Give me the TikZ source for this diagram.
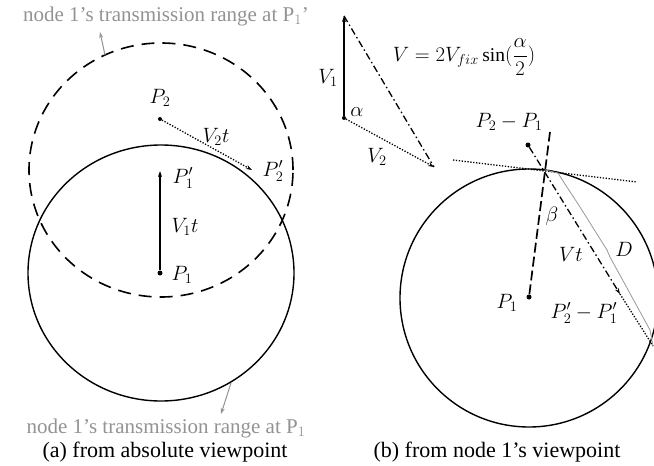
\documentclass[tikz,border=0pt]{standalone}
\usepackage{fontspec}
\usepackage{amsmath}
\setmainfont{Liberation Serif}
\usetikzlibrary{arrows.meta}
\begin{document}
\begin{tikzpicture}[x=1pt,y=-1pt,
  solidline/.style={line width=1.4pt},
  dashcircle/.style={line width=1.6pt,dash pattern=on 13pt off 8pt},
  dotline/.style={line width=1.3pt,dash pattern=on 1.3pt off 1.6pt},
  dashdotline/.style={line width=1.3pt,dash pattern=on 7pt off 3pt on 1.5pt off 3pt},
  tip/.style={-{Stealth[length=6pt,width=4pt]}},
  dotpt/.style={circle,fill=black,inner sep=0pt,minimum size=5pt},
  lbl/.style={inner sep=1pt,font=\fontsize{19.5}{21}\selectfont},
  graytxt/.style={text=gray!85,font=\fontsize{21}{23}\selectfont,inner sep=1pt},
  captxt/.style={font=\fontsize{22}{24}\selectfont,inner sep=1pt},
  grayarrow/.style={draw=gray!85,line width=1pt,-{Stealth[length=6pt,width=4pt]}}]
\useasboundingbox (0,0) rectangle (654,466);
\fill[white] (0,0) rectangle (654,466);

% ---------- (a) ----------
\coordinate (ca) at (161,273);
\coordinate (cap) at (161,170);
\draw[solidline] (ca) ellipse [x radius=133pt, y radius=128pt];
\draw[dashcircle] (cap) ellipse [x radius=132pt, y radius=127pt];

\node[dotpt] (P1) at (160,273) {};
\coordinate (P1p) at (160,171);
\draw[solidline,tip] (P1) -- (P1p);
\node[dotpt,minimum size=4pt] (P2) at (160,119) {};
\coordinate (P2p) at (252,170);
\draw[dotline,tip] (P2) -- (P2p);

\node[lbl] (lP2) at (160,98) {$P_2$};
\node[lbl] (lV2t) at (216,137) {$V_2t$};
\node[lbl] (lP2p) at (273,171) {$P_2'$};
\node[lbl] (lP1p) at (183,178) {$P_1'$};
\node[lbl] (lV1t) at (185,227) {$V_1t$};
\node[lbl] (lP1) at (182,275) {$P_1$};

\node[graytxt] (topl) at (166,16) {node 1’s transmission range at P$_1$’};
\coordinate (ta) at (105,55);
\coordinate (tb) at (100,32);
\draw[grayarrow] (ta) -- (tb);
\node[graytxt] (botl) at (166,428) {node 1’s transmission range at P$_1$};
\coordinate (ba) at (231,383);
\coordinate (bb) at (221,414);
\draw[grayarrow] (ba) -- (bb);
\node[captxt] (capa) at (165,452) {(a) from absolute viewpoint};

% ---------- triangle ----------
\node[dotpt,minimum size=4pt] (TA) at (344,118) {};
\coordinate (TB) at (344,16);
\coordinate (TC) at (434,167);
\draw[solidline,tip] (TA) -- (TB);
\draw[dotline,tip] (TA) -- (TC);
\draw[dashdotline] (TB) -- (TC);
\node[lbl] (lV1) at (328,78) {$V_1$};
\node[lbl] (lal) at (357,112) {$\alpha$};
\node[lbl] (lV2) at (377,157) {$V_2$};
\node[lbl] (form) at (464,57) {$V=2V_{fix}\sin(\dfrac{\alpha}{2})$};

% ---------- (b) ----------
\coordinate (cb) at (529,298);
\draw[solidline] (cb) ellipse [x radius=129pt, y radius=129pt];
\node[dotpt] (Q1) at (529,297) {};
\coordinate (Qd) at (550,132);
\draw[line width=1.7pt,dash pattern=on 10pt off 4pt] (Q1) -- (Qd);
\node[dotpt] (Q21) at (528,145) {};
\coordinate (Qv) at (620,294);
\draw[dashdotline,tip] (Q21) -- (Qv);
\coordinate (Qe) at (653,346);
\draw[dotline] (Qv) -- (Qe);
\coordinate (Ta) at (453,160);
\coordinate (Tb) at (637,182);
\draw[dotline] (Ta) -- (Tb);
\draw[gray!80,line width=0.8pt] (545,170) -- (558,173) -- (563,181) -- (580,207) -- (607,250) -- (610,257) -- (650,330) -- (653,346);

\node[lbl] (lP21) at (509,122) {$P_2-P_1$};
\node[lbl] (lbeta) at (552,216) {$\beta$};
\node[lbl] (lVt) at (571,254) {$Vt$};
\node[lbl] (lD) at (624,249) {$D$};
\node[lbl] (lQ1) at (507,303) {$P_1$};
\node[lbl] (lQ2) at (584,313) {$P_2'-P_1'$};
\node[captxt] (capb) at (497,452) {(b) from node 1’s viewpoint};
\end{tikzpicture}
\end{document}
